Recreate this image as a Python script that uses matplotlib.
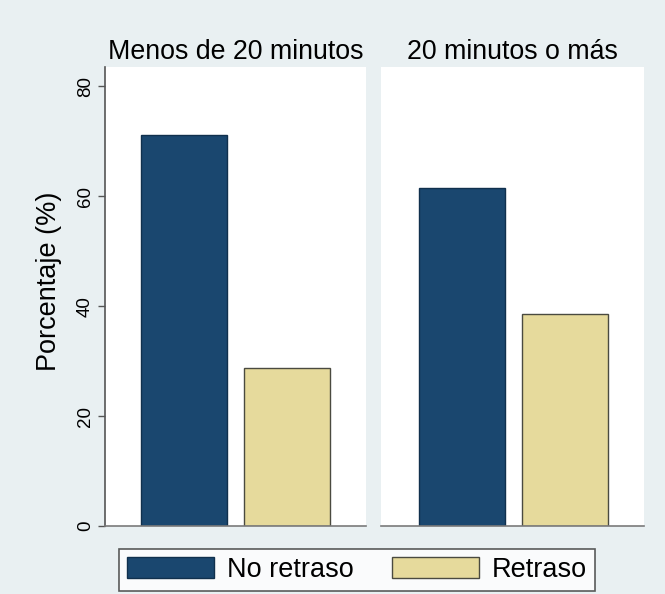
import matplotlib
matplotlib.use('Agg')
import matplotlib.pyplot as plt
from matplotlib.patches import Patch

plt.rcParams['font.family'] = ['Liberation Sans', 'DejaVu Sans']

panels = ['Menos de 20 minutos', '20 minutos o más']
series = ['No retraso', 'Retraso']
no_retraso = [71.2, 61.4]
retraso = [28.8, 38.6]
yticks = [0, 20, 40, 60, 80]

bg = '#e9f0f2'
c_blue = '#1a476f'
c_tan = '#e6da9c'

fig = plt.figure(figsize=(6.65, 5.94), dpi=100)
fig.patch.set_facecolor(bg)

ax1 = fig.add_axes([105 / 665, 68 / 594, 261 / 665, 459 / 594])
ax2 = fig.add_axes([381 / 665, 68 / 594, 263 / 665, 459 / 594], sharey=ax1)

for i, ax in enumerate([ax1, ax2]):
    ax.set_facecolor('white')
    ax.bar(0, no_retraso[i], width=0.83, color=c_blue, edgecolor='#10304d', linewidth=1)
    ax.bar(1, retraso[i], width=0.83, color=c_tan, edgecolor='#4a4a40', linewidth=1)
    ax.set_ylim(0, 83.5)
    ax.set_xticks([])
    for s in ['top', 'right']:
        ax.spines[s].set_visible(False)
    ax.spines['bottom'].set_color('#7a7a7a')
    ax.spines['bottom'].set_linewidth(1.2)
    ax.set_title(panels[i], fontsize=19.3, pad=6)

ax1.set_xlim(-0.76, 1.76)
ax2.set_xlim(-0.78, 1.76)

ax1.spines['left'].set_color('#555555')
ax1.spines['left'].set_linewidth(1.2)
ax1.set_yticks(yticks)
ax1.tick_params(axis='y', length=5, width=1, color='#555555', labelsize=13.5, pad=3)
for t in ax1.get_yticklabels():
    t.set_rotation(90)
    t.set_va('center')
ax1.set_ylabel('Porcentaje (%)', fontsize=19.5)
ax1.yaxis.set_label_coords(-0.165, 0.534)

ax2.spines['left'].set_visible(False)
ax2.tick_params(axis='y', left=False, labelleft=False)

handles = [Patch(facecolor=c_blue, edgecolor='#10304d'),
           Patch(facecolor=c_tan, edgecolor='#4a4a40')]
leg = fig.legend(handles, series, loc='center', bbox_to_anchor=(0.537, 0.04),
                 ncol=2, fontsize=19.5, frameon=True, fancybox=False,
                 handlelength=3.2, handleheight=0.8, columnspacing=1.4,
                 handletextpad=0.5, borderpad=0.3, borderaxespad=0)
leg.get_frame().set_edgecolor('#333333')
leg.get_frame().set_linewidth(1.2)

fig.savefig('out.png', dpi=100, facecolor=bg)
